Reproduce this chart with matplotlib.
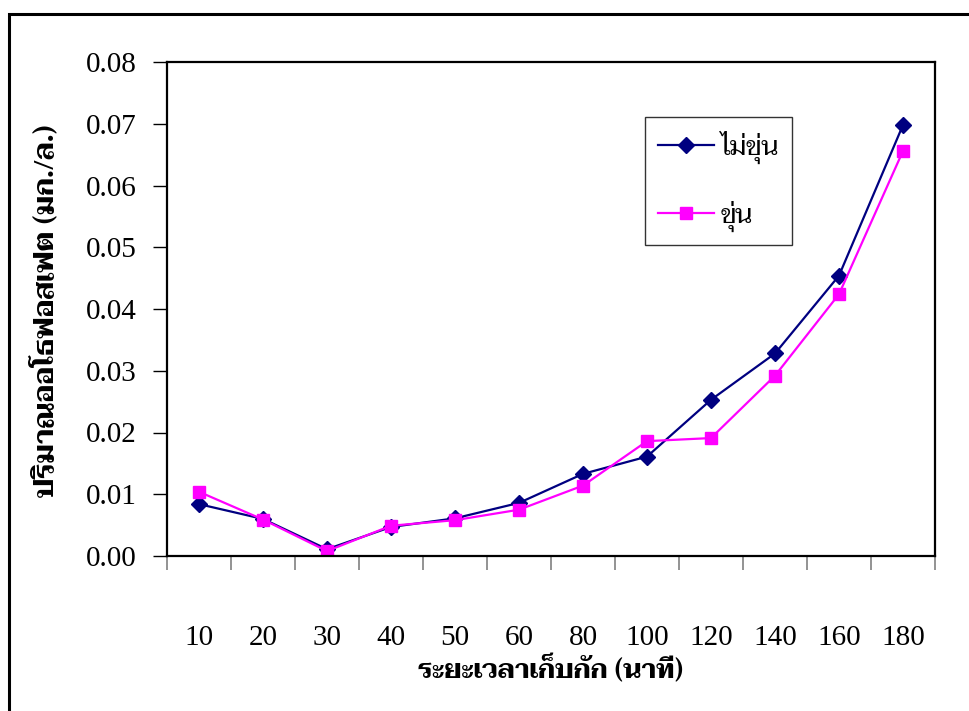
import numpy as np
import matplotlib
matplotlib.use('Agg')
import matplotlib.pyplot as plt
from matplotlib.patches import Rectangle

# ตัวเลขแบบ Times, ตัวอักษรไทยใช้ฟอนต์ไทยที่มีในเครื่อง
plt.rcParams['font.family'] = ['Liberation Serif', 'DejaVu Sans']
plt.rcParams['axes.unicode_minus'] = False
thai_fonts = ['Laksaman', 'Norasi', 'Kinnari', 'Taviraj', 'Liberation Serif']

# ข้อมูล
times = ['10', '20', '30', '40', '50', '60', '80', '100', '120', '140', '160', '180']
clear_vals = [0.0084, 0.0060, 0.0011, 0.0047, 0.0061, 0.0086, 0.0133, 0.0161,
              0.0253, 0.0328, 0.0454, 0.0698]
turbid_vals = [0.0104, 0.0059, 0.0008, 0.0049, 0.0058, 0.0075, 0.0114, 0.0186,
               0.0191, 0.0292, 0.0424, 0.0656]
series_names = ['ไม่ขุ่น', 'ขุ่น']
x_label = 'ระยะเวลาเก็บกัก (นาที)'
y_label = 'ปริมาณออโธฟอสเฟต (มก./ล.)'
y_ticks = [0.00, 0.01, 0.02, 0.03, 0.04, 0.05, 0.06, 0.07, 0.08]

fig = plt.figure(figsize=(9.69, 7.11), dpi=100)
ax = fig.add_axes([167 / 969, 1 - 556 / 711, 768 / 969, 494 / 711])

x = np.arange(len(times))
ax.plot(x, clear_vals, color='#000080', marker='D', markersize=8, linewidth=1.6,
        label=series_names[0])
ax.plot(x, turbid_vals, color='#FF00FF', marker='s', markersize=9, linewidth=1.6,
        label=series_names[1])

ax.set_xlim(-0.5, len(times) - 0.5)
ax.set_ylim(0, 0.08)

# แกน y
ax.set_yticks(y_ticks)
ax.set_yticklabels(['%.2f' % v for v in y_ticks])
ax.tick_params(axis='y', direction='out', length=10, width=1, labelsize=21, pad=12)

# แกน x: ขีดอยู่ระหว่างหมวด, ป้ายอยู่กลางหมวด
ax.set_xticks(np.arange(-0.5, len(times), 1.0))
ax.set_xticklabels([])
ax.tick_params(axis='x', which='major', direction='out', length=10, width=1.2,
               color='#808080')
ax.set_xticks(x, minor=True)
ax.set_xticklabels(times, minor=True)
ax.tick_params(axis='x', which='minor', length=0, labelsize=21, pad=50)

for sp in ax.spines.values():
    sp.set_linewidth(1.6)
    sp.set_color('black')

fig.text(551 / 969, 1 - 670 / 711, x_label, ha='center', va='center',
         fontsize=19, fontweight='bold', family=thai_fonts)
fig.text(45 / 969, 1 - 311 / 711, y_label, ha='center', va='center',
         rotation=90, fontsize=20, fontweight='bold', family=thai_fonts)

leg = ax.legend(loc='upper left', bbox_to_anchor=(645 / 969, 1 - 117 / 711),
                bbox_transform=fig.transFigure, borderaxespad=0, frameon=True,
                fancybox=False, prop={'family': thai_fonts, 'size': 19},
                handlelength=2.1, labelspacing=1.4, borderpad=0.5,
                handletextpad=0.25)
leg.get_frame().set_edgecolor('black')
leg.get_frame().set_linewidth(1.0)

# กรอบนอกของรูป
fig.patches.append(Rectangle((9 / 969, -0.1), 2.0, 1 - 14 / 711 + 0.1,
                             transform=fig.transFigure, fill=False,
                             edgecolor='black', linewidth=2.2))

fig.savefig('out.png', dpi=100)
